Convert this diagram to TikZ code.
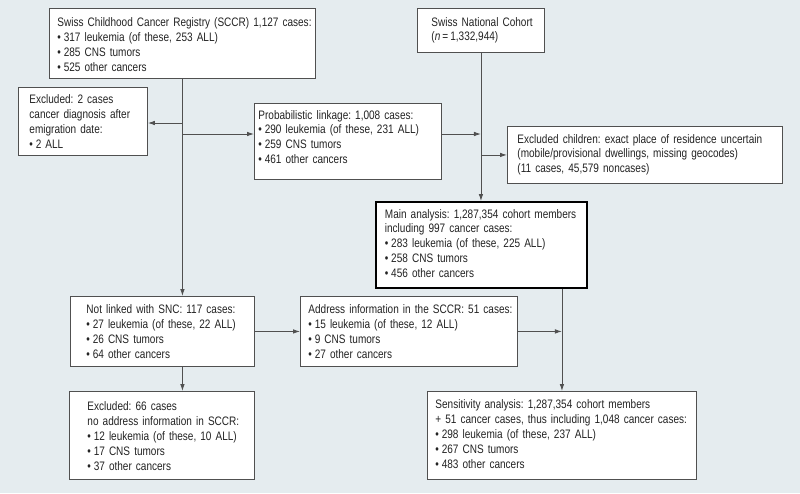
\documentclass[tikz,border=0pt]{standalone}
\usepackage{fontspec}
\setmainfont{Liberation Sans}[FakeStretch=0.815]
\usetikzlibrary{arrows.meta}
\definecolor{bg}{RGB}{229,236,239}
\definecolor{ln}{RGB}{80,80,80}
\definecolor{tx}{RGB}{35,35,35}
\frenchspacing
\tikzset{
  box/.style={draw=ln, line width=0.9pt, fill=white, anchor=north west, align=left,
    inner ysep=0pt, text=tx, font=\fontsize{12.3}{14.9}\selectfont},
  thickbox/.style={box, draw=black, line width=1.8pt},
  arr/.style={draw=ln, line width=0.9pt, -{Latex[length=7pt,width=4.6pt]}}
}
\newcommand{\tl}[2][0pt]{\raisebox{-#1}[\height][\depth]{\begin{tabular}{@{}l@{}}#2\end{tabular}}}
\newcommand{\bu}{•\kern2.8pt}
\begin{document}
\begin{tikzpicture}[x=1pt,y=-1pt]
\fill[bg] (0,0) rectangle (800,493);
\useasboundingbox (0,0) rectangle (800,493);

\node[box, minimum width=266pt, minimum height=70pt, text width=250pt, inner xsep=8pt] (sccr) at (49,8)
 {\tl[2.5pt]{Swiss Childhood Cancer Registry (SCCR) 1,127 cases:\\
  \bu 317 leukemia (of these, 253 ALL)\\
  \bu 285 CNS tumors\\
  \bu 525 other cancers}};

\node[box, minimum width=129pt, minimum height=68pt, text width=107pt, inner xsep=11pt] (ex2) at (18,87)
 {\tl[1.5pt]{Excluded: 2 cases\\
  cancer diagnosis after\\
  emigration date:\\
  \bu 2 ALL}};

\node[box, minimum width=187pt, minimum height=76pt, text width=179pt, inner xsep=4pt] (prob) at (254,103)
 {\tl[-3pt]{Probabilistic linkage: 1,008 cases:\\
  \bu 290 leukemia (of these, 231 ALL)\\
  \bu 259 CNS tumors\\
  \bu 461 other cancers}};

\node[box, minimum width=127pt, minimum height=44pt, text width=99pt, inner xsep=14pt] (snc) at (417,8)
 {\begin{tabular}{@{}l@{}}Swiss National Cohort\\[-1.5pt]
  (\textit{n}\,=\,1,332,944)\end{tabular}};

\node[box, minimum width=275pt, minimum height=57pt, text width=255pt, inner xsep=10pt] (exc) at (507,126)
 {\tl{Excluded children: exact place of residence uncertain\\
  (mobile/provisional dwellings, missing geocodes)\\
  (11 cases, 45,579 noncases)}};

\node[thickbox, minimum width=211pt, minimum height=86pt, text width=193pt, inner xsep=9pt] (main) at (375,201)
 {\tl{Main analysis: 1,287,354 cohort members\\
  including 997 cancer cases:\\
  \bu 283 leukemia (of these, 225 ALL)\\
  \bu 258 CNS tumors\\
  \bu 456 other cancers}};

\node[box, minimum width=184pt, minimum height=70pt, text width=152pt, inner xsep=16pt] (notl) at (70,296)
 {\tl[1.5pt]{Not linked with SNC: 117 cases:\\
  \bu 27 leukemia (of these, 22 ALL)\\
  \bu 26 CNS tumors\\
  \bu 64 other cancers}};

\node[box, minimum width=217pt, minimum height=70pt, text width=201pt, inner xsep=8pt] (addr) at (300,296)
 {\tl[1.5pt]{Address information in the SCCR: 51 cases:\\
  \bu 15 leukemia (of these, 12 ALL)\\
  \bu 9 CNS tumors\\
  \bu 27 other cancers}};

\node[box, minimum width=185pt, minimum height=88pt, text width=149pt, inner xsep=18pt] (ex66) at (69,391)
 {\tl[2pt]{Excluded: 66 cases\\
  no address information in SCCR:\\
  \bu 12 leukemia (of these, 10 ALL)\\
  \bu 17 CNS tumors\\
  \bu 37 other cancers}};

\node[box, minimum width=269pt, minimum height=88pt, text width=253pt, inner xsep=8pt] (sens) at (427,391)
 {\tl{Sensitivity analysis: 1,287,354 cohort members\\
  + 51 cancer cases, thus including 1,048 cancer cases:\\
  \bu 298 leukemia (of these, 237 ALL)\\
  \bu 267 CNS tumors\\
  \bu 483 other cancers}};

\coordinate (j1) at (sccr.south |- 0,123);
\coordinate (j2) at (sccr.south |- 0,134);
\coordinate (j3) at (snc.south |- 0,134);
\coordinate (j4) at (snc.south |- exc.west);

\draw[arr] (sccr.south) -- (sccr.south |- notl.north);
\draw[arr] (j1) -- (j1 -| ex2.east);
\draw[arr] (j2) -- (j2 -| prob.west);
\draw[arr] (snc.south) -- (snc.south |- main.north);
\draw[arr] (j3 -| prob.east) -- (j3);
\draw[arr] (j4) -- (exc.west);
\draw[arr] (notl.east) -- (notl.east -| addr.west);
\draw[arr] (addr.east) -- (addr.east -| sens.north);
\draw[arr] (main.south -| sens.north) -- (sens.north);
\draw[arr] (notl.south -| sccr.south) -- (ex66.north -| sccr.south);
\end{tikzpicture}
\end{document}
